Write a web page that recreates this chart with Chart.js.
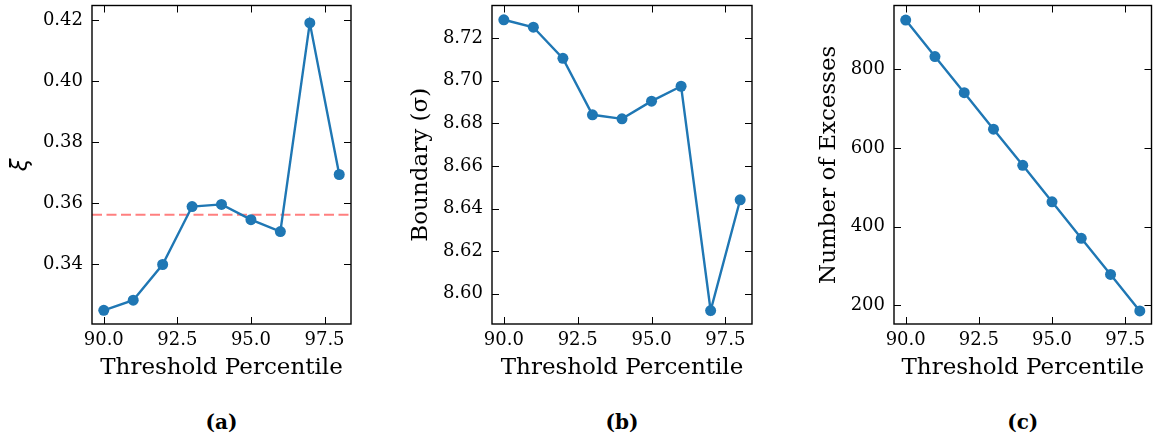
<!DOCTYPE html>
<html>
<head>
<meta charset="utf-8">
<script src="https://cdn.jsdelivr.net/npm/chart.js@4.4.0/dist/chart.umd.min.js"></script>
<style>
    body { margin: 0; background: #fff; width: 1157px; height: 438px; position: relative; overflow: hidden; font-family: 'DejaVu Serif', serif; }
    .panel { position: absolute; top: 0; }
    .panel canvas { display: block; }
    .caption { position: absolute; top: 410px; line-height: 24px; font-size: 20px; font-weight: bold; color: #000; transform: translateX(-50%); white-space: nowrap; }
</style>
</head>
<body>
<div class="panel" id="panelA"><canvas id="chartA" width="370" height="390"></canvas></div>
<div class="panel" id="panelB"><canvas id="chartB" width="370" height="390"></canvas></div>
<div class="panel" id="panelC"><canvas id="chartC" width="349" height="390"></canvas></div>
<div class="caption" id="capA">(a)</div>
<div class="caption" id="capB">(b)</div>
<div class="caption" id="capC">(c)</div>

<script>
// threshold percentiles (x) and the three fitted quantities
const percentiles = [90, 91, 92, 93, 94, 95, 96, 97, 98];
const xiValues = [0.3248, 0.3281, 0.3398, 0.3588, 0.3595, 0.3545, 0.3506, 0.4190, 0.3693];
const xiMean = 0.3561;
const boundaryValues = [8.7286, 8.7251, 8.7105, 8.6840, 8.6821, 8.6904, 8.6974, 8.5921, 8.6441];
const excessCounts = [926, 833, 741, 648, 556, 463, 370, 278, 185];

const xTicks = [90, 92.5, 95, 97.5];
const xiTicks = [0.34, 0.36, 0.38, 0.40, 0.42];
const boundaryTicks = [8.60, 8.62, 8.64, 8.66, 8.68, 8.70, 8.72];
const excessTicks = [200, 400, 600, 800];

const BLUE = '#1f77b4';
const X_MIN = 89.6, X_MAX = 98.4;

Chart.defaults.font.family = "'DejaVu Serif', serif";
Chart.defaults.color = '#000';

// box around the plot + inward ticks on all four sides
const framePlugin = {
    id: 'frame',
    afterDatasetsDraw(chart) {
        const { ctx, chartArea: a, scales } = chart;
        const len = 7;
        ctx.save();
        ctx.strokeStyle = '#000';
        ctx.lineWidth = 1;
        ctx.beginPath();
        scales.x.ticks.forEach(t => {
            const px = Math.round(scales.x.getPixelForValue(t.value)) + 0.5;
            ctx.moveTo(px, a.bottom); ctx.lineTo(px, a.bottom - len);
            ctx.moveTo(px, a.top); ctx.lineTo(px, a.top + len);
        });
        scales.y.ticks.forEach(t => {
            const py = Math.round(scales.y.getPixelForValue(t.value)) + 0.5;
            ctx.moveTo(a.left, py); ctx.lineTo(a.left + len, py);
            ctx.moveTo(a.right, py); ctx.lineTo(a.right - len, py);
        });
        ctx.stroke();
        ctx.lineWidth = 1.4;
        ctx.strokeRect(a.left, a.top, a.right - a.left, a.bottom - a.top);
        ctx.restore();
    }
};

function points(ys) {
    return percentiles.map((p, i) => ({ x: p, y: ys[i] }));
}

function makeChart(canvasId, cfg) {
    const datasets = [{
        data: points(cfg.values),
        borderColor: BLUE,
        backgroundColor: BLUE,
        borderWidth: 2.4,
        pointRadius: 5.5,
        pointBorderWidth: 0,
        pointBackgroundColor: BLUE,
        tension: 0
    }];
    if (cfg.refLine !== undefined) {
        datasets.push({
            data: [{ x: X_MIN, y: cfg.refLine }, { x: X_MAX, y: cfg.refLine }],
            borderColor: 'rgba(255,0,0,0.5)',
            borderWidth: 2,
            borderDash: [10, 4.5],
            pointRadius: 0
        });
    }
    return new Chart(document.getElementById(canvasId), {
        type: 'line',
        data: { datasets },
        options: {
            responsive: false,
            animation: false,
            devicePixelRatio: 1,
            layout: { padding: { left: 0, right: cfg.padRight, top: 2, bottom: 0 } },
            plugins: { legend: { display: false }, tooltip: { enabled: false } },
            scales: {
                x: {
                    type: 'linear',
                    min: X_MIN,
                    max: X_MAX,
                    grid: { display: false, drawTicks: false },
                    border: { display: false },
                    afterBuildTicks: s => { s.ticks = xTicks.map(v => ({ value: v })); },
                    afterFit: s => { s.height = 66; s.paddingLeft = 0; s.paddingRight = 0; },
                    ticks: { padding: 6, font: { size: 18 }, maxRotation: 0, callback: v => v.toFixed(1) },
                    title: { display: true, text: 'Threshold Percentile', font: { size: 23 }, padding: { top: 0, bottom: 8 } }
                },
                y: {
                    min: cfg.yMin,
                    max: cfg.yMax,
                    grid: { display: false, drawTicks: false },
                    border: { display: false },
                    afterBuildTicks: s => { s.ticks = cfg.yTicks.map(v => ({ value: v })); },
                    afterFit: s => { s.width = cfg.axisWidth; s.paddingTop = 0; s.paddingBottom = 0; },
                    ticks: { padding: 9, font: { size: 18 }, callback: cfg.fmt },
                    title: { display: true, text: cfg.yTitle, font: cfg.yTitleFont, padding: { top: 7, bottom: 0 } }
                }
            }
        },
        plugins: [framePlugin]
    });
}

const panels = [
    {
        panel: 'panelA', canvas: 'chartA', caption: 'capA', left: 0,
        values: xiValues, refLine: xiMean, yTicks: xiTicks, yMin: 0.3203, yMax: 0.4247,
        fmt: v => v.toFixed(2), yTitle: 'ξ', yTitleFont: { size: 23, family: "'DejaVu Sans', sans-serif", style: 'italic' },
        axisWidth: 92, padRight: 19
    },
    {
        panel: 'panelB', canvas: 'chartB', caption: 'capB', left: 400,
        values: boundaryValues, yTicks: boundaryTicks, yMin: 8.5858, yMax: 8.7353,
        fmt: v => v.toFixed(2), yTitle: 'Boundary (σ)', yTitleFont: { size: 23 },
        axisWidth: 92, padRight: 18
    },
    {
        panel: 'panelC', canvas: 'chartC', caption: 'capC', left: 808,
        values: excessCounts, yTicks: excessTicks, yMin: 151.8, yMax: 963,
        fmt: v => String(v), yTitle: 'Number of Excesses', yTitleFont: { size: 23 },
        axisWidth: 86, padRight: 5
    }
];

panels.forEach(p => {
    document.getElementById(p.panel).style.left = p.left + 'px';
    const chart = makeChart(p.canvas, p);
    const a = chart.chartArea;
    document.getElementById(p.caption).style.left = (p.left + (a.left + a.right) / 2) + 'px';
});
</script>
</body>
</html>
